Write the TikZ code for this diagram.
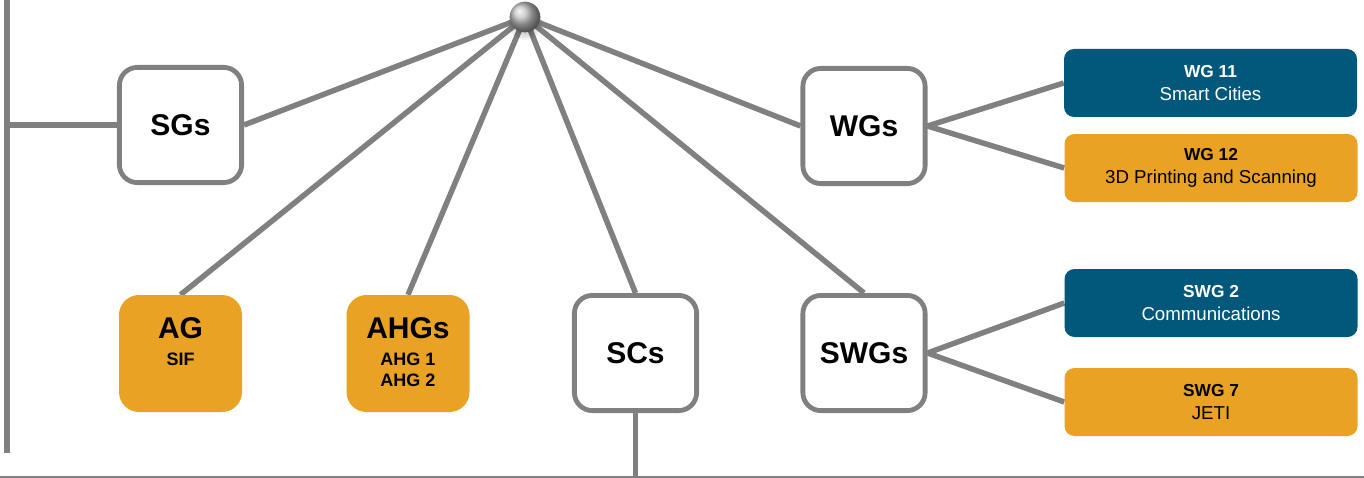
\documentclass[tikz,border=0pt]{standalone}
\usepackage{fontspec}
\setmainfont{Liberation Sans}
\usetikzlibrary{backgrounds}
\definecolor{linegray}{RGB}{128,128,128}
\definecolor{amber}{RGB}{233,162,35}
\definecolor{deepblue}{RGB}{2,88,122}

% text block of the filled amber boxes: bold title with smaller lines below
\newcommand\adhoctext[2]{\parbox[c][87.75pt][t]{92.25pt}{\centering
  \vspace*{16.9pt}%
  {\fontsize{22.5}{22.5}\selectfont\bfseries #1\par}%
  \vspace{4.5pt}%
  {\fontsize{13.5}{15.75}\selectfont\bfseries #2\par}}}

\tikzset{
  groupbox/.style={draw=linegray, line width=3.6pt, fill=white,
    rounded corners=13.5pt, minimum width=91.7pt, minimum height=86.4pt,
    inner sep=0pt, font=\fontsize{22.5}{27}\selectfont\bfseries},
  adhocbox/.style={fill=amber, rounded corners=15pt, inner sep=0pt},
  wgbox/.style={rounded corners=7.5pt, minimum width=219.75pt,
    minimum height=51pt, align=center, inner sep=0pt,
    font=\fontsize{14}{16.9}\selectfont},
  bluebox/.style={wgbox, fill=deepblue, text=white},
  amberbox/.style={wgbox, fill=amber, text=black},
  link/.style={draw=linegray, line width=4.1pt},
  rule/.style={draw=linegray, line width=1.1pt}
}

\begin{document}
\begin{tikzpicture}[x=0.75pt, y=-0.75pt]
  \useasboundingbox (0,0) rectangle (1364,478);

  % outlined group boxes
  \node[groupbox] (SGs)  at (180.5,125) {SGs};
  \node[groupbox] (WGs)  at (864,126)   {WGs};
  \node[groupbox] (SCs)  at (635.5,353) {SCs};
  \node[groupbox] (SWGs) at (864,353)   {SWGs};

  % filled advisory / ad hoc boxes
  \node[adhocbox] (AG)   at (180.5,353.5) {\adhoctext{AG}{SIF}};
  \node[adhocbox] (AHGs) at (408,353.5)   {\adhoctext{AHGs}{AHG 1\\AHG 2}};

  % working groups on the right
  \node[bluebox]  (WG11) at (1210.5,83) {{\fontsize{13}{16.9}\selectfont\bfseries WG 11}\\Smart Cities};
  \node[amberbox] (WG12) at (1211,168)  {{\fontsize{13}{16.9}\selectfont\bfseries WG 12}\\3D Printing and Scanning};
  \node[bluebox]  (SWG2) at (1211,303)  {{\fontsize{13}{16.9}\selectfont\bfseries SWG 2}\\Communications};
  \node[amberbox] (SWG7) at (1211,402)  {{\fontsize{13}{16.9}\selectfont\bfseries SWG 7}\\JETI};

  % soft shadow under the hub
  \foreach \r in {11,13,15,17}
    \fill[black, opacity=0.05] (525,23) circle (\r);

  % central hub
  \node[circle, shading=ball, ball color=gray!50, minimum size=23pt,
        inner sep=0pt] (hub) at (525,17) {};

  % frame coordinates
  \coordinate (spineTop) at (7,0);
  \coordinate (spineBot) at (7,453);
  \coordinate (baseL) at (0,477);
  \coordinate (baseR) at (1364,477);

  \begin{scope}[on background layer]
    \draw[link] (hub.center) -- (SGs.east);
    \draw[link] (hub.center) -- (AG.north);
    \draw[link] (hub.center) -- (AHGs.north);
    \draw[link] (hub.center) -- (SCs.north);
    \draw[link] (hub.center) -- (SWGs.north);
    \draw[link] (hub.center) -- (WGs.west);

    \draw[link] (WGs.east) -- (WG11.west);
    \draw[link] (WGs.east) -- (WG12.west);
    \draw[link] (SWGs.east) -- (SWG2.west);
    \draw[link] (SWGs.east) -- (SWG7.west);

    \draw[link] (spineTop) -- (spineBot);
    \draw[link] (spineTop |- SGs.west) -- (SGs.west);
    \draw[link] (SCs.south) -- (SCs.south |- baseR);
    \draw[rule] (baseL) -- (baseR);
  \end{scope}
\end{tikzpicture}
\end{document}
